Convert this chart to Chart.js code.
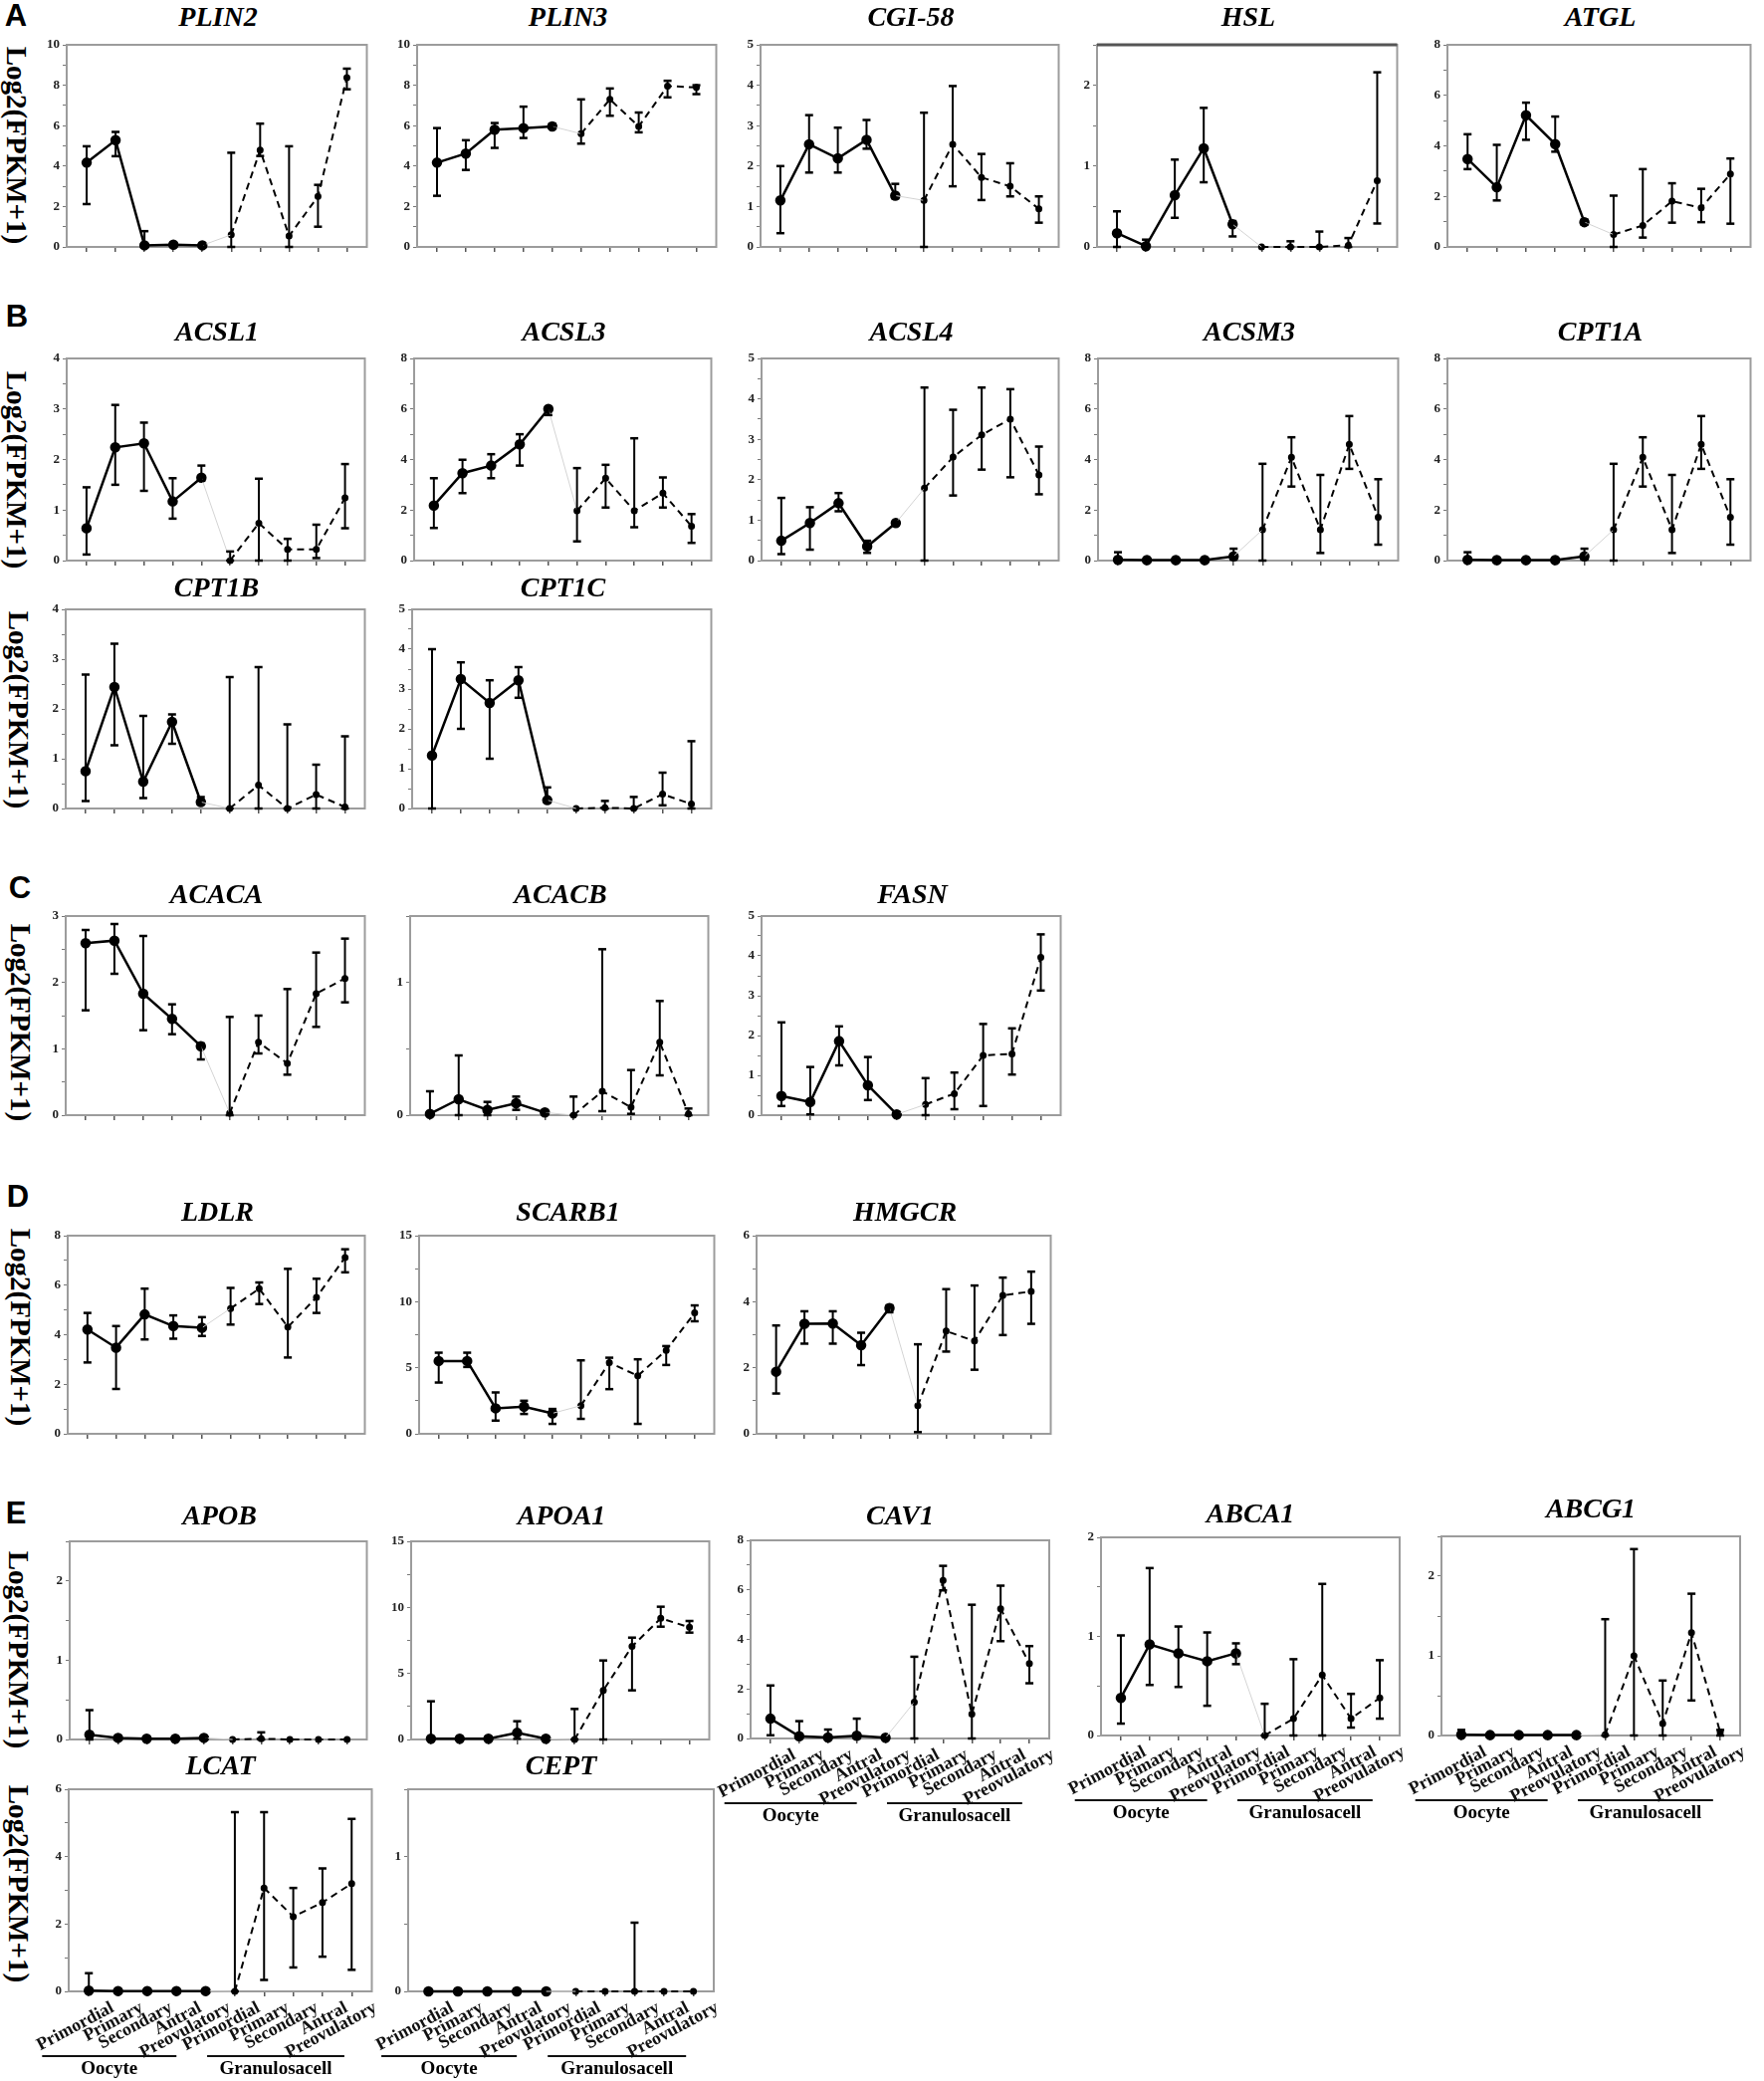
<!DOCTYPE html>
<html><head><meta charset="utf-8">
<script src="https://cdn.jsdelivr.net/npm/chart.js@4.4.1/dist/chart.umd.min.js"></script>
<style>
body{margin:0;background:#fff;}
#root{position:relative;width:1772px;height:2090px;overflow:hidden;background:#fff;}
canvas{position:absolute;}
.letter{position:absolute;font:bold 31px "Liberation Sans",Arial,sans-serif;transform:translate(-50%,-50%);color:#000;}
.ylab{position:absolute;writing-mode:vertical-rl;font:bold 29px "Liberation Serif","Times New Roman",serif;transform:translate(-50%,-50%);white-space:nowrap;color:#000;}
.title{position:absolute;font:italic bold 28px "Liberation Serif","Times New Roman",serif;transform:translate(-50%,-50%);white-space:nowrap;color:#000;}
</style></head>
<body><div id="root"></div>
<script>
// ---------------- DATA ----------------
const categories = ['Primordial','Primary','Secondary','Antral','Preovulatory','Primordial','Primary','Secondary','Antral','Preovulatory'];
const groupNames = ['Oocyte','Granulosacell'];

const PLIN2_mean = [4.17,5.28,0.08,0.11,0.08, 0.6,4.79,0.54,2.5,8.38];
const PLIN2_lo   = [2.12,4.49,0,0,0, 0,4.5,0,1.0,7.8];
const PLIN2_hi   = [4.98,5.69,0.78,0.2,0.16, 4.66,6.1,4.98,3.07,8.82];

const PLIN3_mean = [4.17,4.62,5.8,5.88,5.96, 5.6,7.3,5.96,7.96,7.89];
const PLIN3_lo   = [2.53,3.81,4.9,5.39,5.88, 5.11,6.49,5.67,7.4,7.56];
const PLIN3_hi   = [5.88,5.28,6.13,6.94,6.1, 7.3,7.84,6.65,8.22,8.0];

const CGI58_mean = [1.15,2.54,2.19,2.65,1.27, 1.15,2.54,1.72,1.5,0.94];
const CGI58_lo   = [0.34,1.84,1.84,2.43,1.2, 0,1.5,1.16,1.25,0.6];
const CGI58_hi   = [2.0,3.26,2.95,3.14,1.56, 3.32,3.98,2.3,2.07,1.25];

const HSL_mean = [0.17,0.01,0.64,1.22,0.28, 0,0,0,0.02,0.82];
const HSL_lo   = [0,0,0.36,0.8,0.13, 0,0,0,0,0.29];
const HSL_hi   = [0.44,0.09,1.08,1.72,0.32, 0,0.07,0.19,0.11,2.16];

const ATGL_mean = [3.48,2.36,5.21,4.07,0.98, 0.49,0.85,1.81,1.55,2.89];
const ATGL_lo   = [3.08,1.84,4.24,3.77,0.88, 0,0.37,0.96,0.98,0.92];
const ATGL_hi   = [4.46,4.04,5.71,5.16,1.08, 2.03,3.08,2.52,2.3,3.5];

const ACSL1_mean = [0.64,2.24,2.32,1.17,1.64, 0,0.74,0.22,0.22,1.24];
const ACSL1_lo   = [0.12,1.5,1.38,0.83,1.58, 0,0,0,0.05,0.64];
const ACSL1_hi   = [1.45,3.08,2.73,1.63,1.88, 0.18,1.62,0.43,0.71,1.91];

const ACSL3_mean = [2.18,3.46,3.76,4.6,6.0, 1.97,3.26,1.97,2.67,1.36];
const ACSL3_lo   = [1.29,2.67,3.26,3.76,5.76, 0.76,2.1,1.32,2.1,0.7];
const ACSL3_hi   = [3.26,3.99,4.21,5.0,6.07, 3.66,3.79,4.84,3.29,1.84];

const ACSL4_mean = [0.49,0.93,1.42,0.35,0.93, 1.79,2.56,3.11,3.5,2.12];
const ACSL4_lo   = [0.16,0.27,1.22,0.19,0.88, 0,1.61,2.25,2.06,1.64];
const ACSL4_hi   = [1.55,1.32,1.67,0.49,0.97, 4.28,3.73,4.28,4.24,2.82];

const ACSM3_mean = [0.03,0.02,0.02,0.02,0.17, 1.22,4.09,1.22,4.6,1.71];
const ACSM3_lo   = [0,0,0,0,0.04, 0,2.93,0.3,3.63,0.63];
const ACSM3_hi   = [0.33,0.06,0.06,0.06,0.47, 3.83,4.88,3.39,5.72,3.22];

const CPT1A_mean = [0.03,0.02,0.02,0.02,0.17, 1.22,4.09,1.22,4.6,1.71];
const CPT1A_lo   = [0,0,0,0,0.04, 0,2.93,0.3,3.63,0.63];
const CPT1A_hi   = [0.33,0.06,0.06,0.06,0.47, 3.83,4.88,3.39,5.72,3.22];

const CPT1B_mean = [0.75,2.44,0.54,1.74,0.13, 0,0.47,0,0.28,0.03];
const CPT1B_lo   = [0.15,1.27,0.21,1.3,0.08, 0,0,0,0,0];
const CPT1B_hi   = [2.69,3.31,1.86,1.89,0.23, 2.64,2.84,1.69,0.88,1.45];

const CPT1C_mean = [1.33,3.25,2.65,3.22,0.21, 0,0.02,0,0.36,0.11];
const CPT1C_lo   = [0,2.0,1.25,2.78,0.15, 0,0,0,0.08,0];
const CPT1C_hi   = [4.0,3.67,3.22,3.55,0.53, 0,0.19,0.29,0.9,1.69];

const ACACA_mean = [2.59,2.63,1.83,1.45,1.04, 0.03,1.1,0.78,1.83,2.06];
const ACACA_lo   = [1.58,2.13,1.28,1.22,0.84, 0,0.93,0.61,1.33,1.7];
const ACACA_hi   = [2.79,2.88,2.7,1.67,1.08, 1.48,1.5,1.9,2.45,2.66];

const ACACB_mean = [0.01,0.12,0.04,0.09,0.02, 0,0.18,0.06,0.55,0.01];
const ACACB_lo   = [0,0,0,0.04,0.01, 0,0.03,0.01,0.3,0];
const ACACB_hi   = [0.18,0.45,0.1,0.14,0.03, 0.14,1.25,0.34,0.86,0.05];

const FASN_mean = [0.48,0.33,1.86,0.75,0.02, 0.27,0.54,1.5,1.54,3.96];
const FASN_lo   = [0.23,0.02,1.25,0.38,0, 0,0.15,0.23,1.02,3.13];
const FASN_hi   = [2.33,1.21,2.23,1.46,0.04, 0.93,1.07,2.29,2.18,4.54];

const LDLR_mean = [4.21,3.48,4.82,4.35,4.28, 5.06,5.86,4.31,5.51,7.12];
const LDLR_lo   = [2.88,1.81,3.81,3.84,3.95, 4.41,5.24,3.08,4.88,6.52];
const LDLR_hi   = [4.88,4.35,5.86,4.78,4.71, 5.89,6.11,6.66,6.26,7.45];

const SCARB1_mean = [5.51,5.51,1.93,2.05,1.55, 2.13,5.39,4.39,6.32,9.15];
const SCARB1_lo   = [3.88,5.06,1.0,1.5,0.75, 1.13,3.38,0.75,5.21,8.52];
const SCARB1_hi   = [6.14,6.14,3.13,2.5,1.88, 5.56,5.76,5.64,6.64,9.72];

const HMGCR_mean = [1.88,3.33,3.34,2.68,3.81, 0.85,3.11,2.81,4.19,4.31];
const HMGCR_lo   = [1.22,2.73,2.73,2.08,3.68, 0.05,2.49,1.94,2.99,3.33];
const HMGCR_hi   = [3.28,3.71,3.71,3.06,3.89, 2.71,4.38,4.49,4.73,4.91];

const APOB_mean = [0.06,0.02,0.01,0.01,0.02, 0,0.01,0,0,0];
const APOB_lo   = [0,0,0,0,0, 0,0,0,0,0];
const APOB_hi   = [0.37,0.04,0.01,0.01,0.03, 0,0.09,0,0,0];

const APOA1_mean = [0.05,0.05,0.05,0.5,0.05, 0,3.72,7.04,9.17,8.49];
const APOA1_lo   = [0,0,0,0.05,0, 0,0,3.72,8.54,8.09];
const APOA1_hi   = [2.89,0.05,0.2,1.38,0.05, 2.31,5.98,7.71,10.05,8.97];

const CAV1_mean = [0.8,0.09,0.04,0.11,0.03, 1.47,6.38,0.98,5.24,3.03];
const CAV1_lo   = [0.13,0,0,0,0, 0,5.98,0,3.93,2.23];
const CAV1_hi   = [2.14,0.7,0.36,0.8,0.03, 3.3,6.97,5.4,6.17,3.73];

const ABCA1_mean = [0.38,0.92,0.83,0.75,0.83, 0,0.17,0.61,0.17,0.38];
const ABCA1_lo   = [0.12,0.51,0.49,0.3,0.72, 0,0,0,0.08,0.17];
const ABCA1_hi   = [1.01,1.69,1.1,1.04,0.93, 0.32,0.77,1.53,0.42,0.76];

const ABCG1_mean = [0.01,0.005,0.005,0.005,0.005, 0.01,1.0,0.15,1.29,0.04];
const ABCG1_lo   = [0,0,0,0,0, 0,0,0,0.44,0];
const ABCG1_hi   = [0.07,0.01,0.01,0.01,0.01, 1.46,2.34,0.69,1.78,0.07];

const LCAT_mean = [0.02,0.01,0.01,0.01,0.01, 0,3.07,2.22,2.64,3.2];
const LCAT_lo   = [0,0,0,0,0, 0,0.34,0.71,1.03,0.64];
const LCAT_hi   = [0.54,0.01,0.01,0.01,0.01, 5.32,5.32,3.07,3.65,5.12];

const CEPT_mean = [0,0,0,0,0, 0,0,0,0,0];
const CEPT_lo   = [0,0,0,0,0, 0,0,0,0,0];
const CEPT_hi   = [0,0,0,0,0, 0,0,0.51,0,0];

// ---------------- LAYOUT (positions only) ----------------
const panels = [
 {g:'PLIN2',  m:PLIN2_mean,  lo:PLIN2_lo,  hi:PLIN2_hi,  ymax:10,  step:2, box:[67,45,371,248],    ty:17},
 {g:'PLIN3',  m:PLIN3_mean,  lo:PLIN3_lo,  hi:PLIN3_hi,  ymax:10,  step:2, box:[419,45,722,248],   ty:17},
 {g:'CGI-58', m:CGI58_mean,  lo:CGI58_lo,  hi:CGI58_hi,  ymax:5,   step:1, box:[764,45,1066,248],  ty:17},
 {g:'HSL',    m:HSL_mean,    lo:HSL_lo,    hi:HSL_hi,    ymax:2.5, step:1, box:[1102,45,1406,248], ty:17, darkTop:true},
 {g:'ATGL',   m:ATGL_mean,   lo:ATGL_lo,   hi:ATGL_hi,   ymax:8,   step:2, box:[1454,45,1761,248], ty:17},
 {g:'ACSL1',  m:ACSL1_mean,  lo:ACSL1_lo,  hi:ACSL1_hi,  ymax:4,   step:1, box:[67,360,369,563],   ty:333},
 {g:'ACSL3',  m:ACSL3_mean,  lo:ACSL3_lo,  hi:ACSL3_hi,  ymax:8,   step:2, box:[416,360,717,563],  ty:333},
 {g:'ACSL4',  m:ACSL4_mean,  lo:ACSL4_lo,  hi:ACSL4_hi,  ymax:5,   step:1, box:[765,360,1066,563], ty:333},
 {g:'ACSM3',  m:ACSM3_mean,  lo:ACSM3_lo,  hi:ACSM3_hi,  ymax:8,   step:2, box:[1103,360,1407,563],ty:333},
 {g:'CPT1A',  m:CPT1A_mean,  lo:CPT1A_lo,  hi:CPT1A_hi,  ymax:8,   step:2, box:[1454,360,1761,563],ty:333},
 {g:'CPT1B',  m:CPT1B_mean,  lo:CPT1B_lo,  hi:CPT1B_hi,  ymax:4,   step:1, box:[66,612,369,812],   ty:590},
 {g:'CPT1C',  m:CPT1C_mean,  lo:CPT1C_lo,  hi:CPT1C_hi,  ymax:5,   step:1, box:[414,612,717,812],  ty:590},
 {g:'ACACA',  m:ACACA_mean,  lo:ACACA_lo,  hi:ACACA_hi,  ymax:3,   step:1, box:[66,920,369,1120],  ty:898},
 {g:'ACACB',  m:ACACB_mean,  lo:ACACB_lo,  hi:ACACB_hi,  ymax:1.5, step:1, box:[412,920,714,1120], ty:898},
 {g:'FASN',   m:FASN_mean,   lo:FASN_lo,   hi:FASN_hi,   ymax:5,   step:1, box:[765,920,1068,1120], ty:898},
 {g:'LDLR',   m:LDLR_mean,   lo:LDLR_lo,   hi:LDLR_hi,   ymax:8,   step:2, box:[68,1241,369,1440], ty:1217},
 {g:'SCARB1', m:SCARB1_mean, lo:SCARB1_lo, hi:SCARB1_hi, ymax:15,  step:5, box:[421,1241,720,1440],ty:1217},
 {g:'HMGCR',  m:HMGCR_mean,  lo:HMGCR_lo,  hi:HMGCR_hi,  ymax:6,   step:2, box:[760,1241,1058,1440],ty:1217},
 {g:'APOB',   m:APOB_mean,   lo:APOB_lo,   hi:APOB_hi,   ymax:2.5, step:1, box:[70,1548,371,1747], ty:1522},
 {g:'APOA1',  m:APOA1_mean,  lo:APOA1_lo,  hi:APOA1_hi,  ymax:15,  step:5, box:[413,1548,715,1747],ty:1522},
 {g:'CAV1',   m:CAV1_mean,   lo:CAV1_lo,   hi:CAV1_hi,   ymax:8,   step:2, box:[754,1547,1054,1746],ty:1522, xl:true},
 {g:'ABCA1',  m:ABCA1_mean,  lo:ABCA1_lo,  hi:ABCA1_hi,  ymax:2,   step:1, box:[1106,1544,1406,1743],ty:1520, xl:true},
 {g:'ABCG1',  m:ABCG1_mean,  lo:ABCG1_lo,  hi:ABCG1_hi,  ymax:2.5, step:1, box:[1448,1543,1748,1743],ty:1515, xl:true, pr:24},
 {g:'LCAT',   m:LCAT_mean,   lo:LCAT_lo,   hi:LCAT_hi,   ymax:6,   step:2, box:[69,1797,374,2000],  ty:1773, xl:true, pr:6},
 {g:'CEPT',   m:CEPT_mean,   lo:CEPT_lo,   hi:CEPT_hi,   ymax:1.5, step:1, box:[410,1797,717,2000], ty:1773, xl:true}
];
const letters = [['A',16,16],['B',17,318],['C',20,892],['D',18,1202],['E',16,1520]];
const ylabels = [[16,146],[16,472],[18,713],[20,1027],[20,1333],[18,1657],[18,1892]];

const root = document.getElementById('root');
function addDiv(cls, text, x, y){
  const d = document.createElement('div'); d.className = cls; d.textContent = text;
  d.style.left = x+'px'; d.style.top = y+'px'; root.appendChild(d);
}
letters.forEach(l => addDiv('letter', l[0], l[1], l[2]));
ylabels.forEach(p => addDiv('ylab', 'Log2(FPKM+1)', p[0], p[1]));

const YW = 44, PT = 12;
const SERIF = '"Liberation Serif","Times New Roman",serif';

panels.forEach(p => {
  const [x0,y0,x1,y1] = p.box;
  const XH = p.xl ? 100 : 8;
  const PR = p.xl ? (p.pr !== undefined ? p.pr : 60) : 4;
  const cv = document.createElement('canvas');
  const W = (x1-x0) + YW + PR, H = (y1-y0) + PT + XH;
  cv.width = W; cv.height = H;
  cv.style.left = (x0-YW)+'px'; cv.style.top = (y0-PT)+'px';
  cv.style.width = W+'px'; cv.style.height = H+'px';
  root.appendChild(cv);
  addDiv('title', p.g, (x0+x1)/2, p.ty);

  const ooc = [0,1,2,3,4].map(i => ({x:i, y:p.m[i]}));
  const gra = [5,6,7,8,9].map(i => ({x:i, y:p.m[i]}));
  const link = [{x:4, y:p.m[4]}, {x:5, y:p.m[5]}];

  const yTicks = [];
  for (let v = 0; v <= p.ymax + 1e-9; v += p.step/2) yTicks.push(+v.toFixed(4));

  const errPlugin = {
    id:'err'+p.g,
    afterDatasetsDraw(chart){
      const ctx = chart.ctx, xs = chart.scales.x, ys = chart.scales.y;
      ctx.save(); ctx.strokeStyle = '#000';
      for (let i=0;i<10;i++){
        const lo = p.lo[i], hi = p.hi[i];
        if (hi - lo < 1e-9) continue;
        const x = xs.getPixelForValue(i), yl = ys.getPixelForValue(lo), yh = ys.getPixelForValue(hi);
        ctx.lineWidth = 2;
        ctx.beginPath(); ctx.moveTo(x, yl); ctx.lineTo(x, yh); ctx.stroke();
        ctx.lineWidth = 2.5;
        ctx.beginPath(); ctx.moveTo(x-4, yh); ctx.lineTo(x+4, yh); ctx.stroke();
        ctx.beginPath(); ctx.moveTo(x-4, yl); ctx.lineTo(x+4, yl); ctx.stroke();
      }
      ctx.restore();
    }
  };
  const boxPlugin = {
    id:'box'+p.g,
    beforeDatasetsDraw(chart){
      const a = chart.chartArea, ctx = chart.ctx;
      ctx.save(); ctx.strokeStyle = '#9c9c9c'; ctx.lineWidth = 2;
      ctx.strokeRect(a.left, a.top, a.right-a.left, a.bottom-a.top);
      if (p.darkTop){ ctx.strokeStyle='#555'; ctx.lineWidth=3; ctx.beginPath(); ctx.moveTo(a.left,a.top); ctx.lineTo(a.right,a.top); ctx.stroke(); }
      ctx.restore();
    }
  };
  const groupPlugin = {
    id:'grp'+p.g,
    afterDraw(chart){
      if (!p.xl) return;
      const a = chart.chartArea, ctx = chart.ctx, xs = chart.scales.x;
      ctx.save(); ctx.strokeStyle = '#111'; ctx.lineWidth = 2; ctx.fillStyle = '#000';
      ctx.font = 'bold 19px ' + SERIF; ctx.textAlign = 'center'; ctx.textBaseline = 'middle';
      const spans = [[-1.6, 3.0], [4.05, 8.75]];
      spans.forEach((s, k) => {
        const xa = xs.getPixelForValue(s[0]), xb = xs.getPixelForValue(s[1]);
        const ly = a.bottom + 65;
        ctx.beginPath(); ctx.moveTo(xa, ly); ctx.lineTo(xb, ly); ctx.stroke();
        ctx.fillText(groupNames[k], (xa+xb)/2, a.bottom + 78);
      });
      ctx.restore();
    }
  };

  new Chart(cv, {
    type: 'scatter',
    data: { datasets: [
      { data: link, showLine:true, borderColor:'#d4d4d4', borderWidth:1, pointRadius:0, clip:false },
      { data: ooc, showLine:true, borderColor:'#000', borderWidth:2.5, pointRadius:4, pointBackgroundColor:'#000', pointBorderColor:'#000', clip:false },
      { data: gra, showLine:true, borderColor:'#000', borderWidth:2, borderDash:[7,5], pointRadius:2.5, pointBackgroundColor:'#000', pointBorderColor:'#000', clip:false }
    ]},
    options: {
      responsive:false, animation:false, events:[],
      layout:{ padding:{ top:PT, right:PR, left:0, bottom:0 } },
      plugins:{ legend:{display:false}, tooltip:{enabled:false} },
      scales:{
        x:{
          type:'linear', min:-0.69, max:9.69,
          afterBuildTicks: s => { s.ticks = [0,1,2,3,4,5,6,7,8,9].map(v => ({value:v})); },
          afterFit: s => { s.height = XH; s.paddingLeft = 0; s.paddingRight = 0; },
          grid:{ display:true, drawOnChartArea:false, drawTicks:true, tickLength:5, color:'#555', lineWidth:1.5 },
          border:{ display:false },
          ticks:{
            autoSkip:false, maxRotation:28, minRotation:28, padding:1, labelOffset:24,
            color:'#111', font:{ family:SERIF, size:18, weight:'bold' },
            callback: v => p.xl ? categories[v] : ''
          }
        },
        y:{
          type:'linear', min:0, max:p.ymax,
          afterBuildTicks: s => { s.ticks = yTicks.map(v => ({value:v})); },
          afterFit: s => { s.width = YW; s.paddingTop = 0; s.paddingBottom = 0; },
          grid:{ display:true, drawOnChartArea:false, drawTicks:true, tickLength:4, color:'#777', lineWidth:1 },
          border:{ display:false },
          ticks:{
            padding:3, color:'#222', font:{ family:SERIF, size:13, weight:'bold' },
            callback: v => (Math.abs(v/p.step - Math.round(v/p.step)) < 1e-6) ? String(v) : ''
          }
        }
      }
    },
    plugins:[boxPlugin, errPlugin, groupPlugin]
  });
});
</script>
</body></html>
